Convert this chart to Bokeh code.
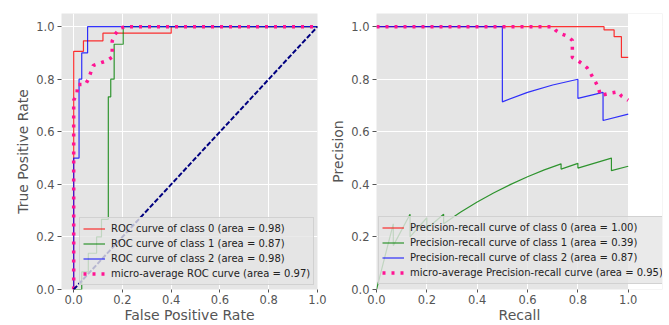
from bokeh.plotting import figure
from bokeh.layouts import row
from bokeh.models import Range1d, FixedTicker, BoxAnnotation
from bokeh.embed import file_html
from bokeh.resources import INLINE

# ---- data ----
ticks = [0.0, 0.2, 0.4, 0.6, 0.8, 1.0]
tick_labels = ["0.0", "0.2", "0.4", "0.6", "0.8", "1.0"]

# ROC curves
fpr0 = [0.0, 0.0, 0.04, 0.04, 0.12, 0.12, 0.40, 0.40, 1.0]
tpr0 = [0.0, 0.906, 0.906, 0.946, 0.946, 0.975, 0.975, 1.0, 1.0]
fpr1 = [0.0, 0.033, 0.033, 0.06, 0.06, 0.094, 0.094, 0.114, 0.114, 0.142, 0.142,
        0.152, 0.152, 0.166, 0.166, 0.203, 0.203, 1.0]
tpr1 = [0.0, 0.0, 0.067, 0.067, 0.138, 0.138, 0.2, 0.2, 0.267, 0.267, 0.733,
        0.733, 0.8, 0.8, 0.933, 0.933, 1.0, 1.0]
fpr2 = [0.0, 0.0, 0.022, 0.022, 0.033, 0.033, 0.057, 0.057, 1.0]
tpr2 = [0.0, 0.5, 0.5, 0.8, 0.8, 0.9, 0.9, 1.0, 1.0]
fpr_micro = [0.0, 0.0, 0.014, 0.015, 0.049, 0.06, 0.08, 0.11, 0.135, 0.158, 0.158,
             0.17, 0.19, 0.212, 1.0]
tpr_micro = [0.0, 0.72, 0.745, 0.78, 0.78, 0.80, 0.852, 0.862, 0.87, 0.884, 0.946,
             0.971, 0.994, 1.0, 1.0]
diag = [0.0, 1.0]
roc_labels = ["ROC curve of class 0 (area = 0.98)",
              "ROC curve of class 1 (area = 0.87)",
              "ROC curve of class 2 (area = 0.98)",
              "micro-average ROC curve (area = 0.97)"]

# Precision-recall curves
rec0 = [0.0, 0.904, 0.904, 0.944, 0.944, 0.973, 0.973, 1.0]
prec0 = [1.0, 1.0, 0.9875, 0.9875, 0.962, 0.962, 0.883, 0.883]
rec1 = [0.0, 0.0667, 0.0667, 0.1333, 0.1333, 0.2, 0.2, 0.2667, 0.2667, 0.3333, 0.4,
        0.4667, 0.5333, 0.6, 0.6667, 0.7333, 0.7333, 0.8, 0.8, 0.8667, 0.9333,
        0.9333, 1.0]
prec1 = [0.0, 0.25, 0.167, 0.286, 0.2, 0.273, 0.231, 0.286, 0.25, 0.294, 0.333,
         0.368, 0.4, 0.429, 0.455, 0.478, 0.458, 0.48, 0.462, 0.481, 0.5,
         0.452, 0.469]
rec2 = [0.0, 0.5, 0.5, 0.6, 0.7, 0.8, 0.8, 0.9, 0.9, 1.0]
prec2 = [1.0, 1.0, 0.714, 0.75, 0.778, 0.8, 0.727, 0.75, 0.643, 0.667]
rec_micro = [0.0, 0.70, 0.713, 0.735, 0.757, 0.778, 0.778, 0.798, 0.817, 0.837,
             0.85, 0.86, 0.872, 0.882, 0.89, 0.923, 0.96, 0.973, 1.0]
prec_micro = [1.0, 1.0, 0.985, 0.972, 0.964, 0.948, 0.883, 0.872, 0.859, 0.843,
              0.824, 0.805, 0.786, 0.765, 0.738, 0.746, 0.752, 0.736, 0.72]
pr_labels = ["Precision-recall curve of class 0 (area = 1.00)",
             "Precision-recall curve of class 1 (area = 0.39)",
             "Precision-recall curve of class 2 (area = 0.87)",
             "micro-average Precision-recall curve (area = 0.95)"]

FONT = "DejaVu Sans"
GRAY = "#555555"


def style(p, xlabel, ylabel):
    p.background_fill_color = "#E5E5E5"
    p.border_fill_color = "white"
    p.outline_line_color = None
    p.grid.grid_line_color = "white"
    p.grid.grid_line_width = 1
    p.xaxis.axis_label = xlabel
    p.yaxis.axis_label = ylabel
    for ax in p.axis:
        ax.ticker = FixedTicker(ticks=ticks)
        ax.major_label_overrides = dict(zip(ticks, tick_labels))
        ax.axis_line_color = None
        ax.major_tick_line_color = GRAY
        ax.major_tick_out = 4
        ax.major_tick_in = 0
        ax.minor_tick_line_color = None
        ax.major_label_text_font = FONT
        ax.major_label_text_font_size = "11.5px"
        ax.major_label_text_color = GRAY
        ax.major_label_standoff = 3
        ax.axis_label_text_font = FONT
        ax.axis_label_text_font_size = "14px"
        ax.axis_label_text_color = GRAY
        ax.axis_label_text_font_style = "normal"
        ax.axis_label_standoff = 2
    for ax in p.xaxis:
        ax.major_tick_out = 3
        ax.major_label_standoff = 2
        ax.axis_label_standoff = 0


def style_legend(p, loc):
    lg = p.legend[0]
    lg.location = loc
    lg.margin = 0
    lg.padding = 3
    lg.spacing = 0
    lg.glyph_width = 22
    lg.glyph_height = 15
    lg.label_height = 15
    lg.label_standoff = 6
    lg.label_text_font = FONT
    lg.label_text_font_size = "10px"
    lg.label_text_color = "#222222"
    lg.background_fill_color = "#E5E5E5"
    lg.background_fill_alpha = 0.8
    lg.border_line_color = "#CCCCCC"
    lg.border_line_alpha = 0.8


H = 325
p1 = figure(width=327, height=H, output_backend="svg", toolbar_location=None,
            x_range=Range1d(-0.05, 1.0), y_range=Range1d(0.0, 1.05),
            min_border_left=61, min_border_right=10, min_border_top=13,
            min_border_bottom=35)
style(p1, "False Positive Rate", "True Positive Rate")
p1.line(fpr0, tpr0, color="red", line_width=1.2, line_alpha=0.8, legend_label=roc_labels[0])
p1.line(fpr1, tpr1, color="green", line_width=1.2, line_alpha=0.8, legend_label=roc_labels[1])
p1.line(fpr2, tpr2, color="blue", line_width=1.2, line_alpha=0.8, legend_label=roc_labels[2])
p1.line(fpr_micro, tpr_micro, color="#FF1493", line_width=3.5, line_dash="3 6",
        legend_label=roc_labels[3])
p1.line(diag, diag, color="navy", line_width=2, line_dash="5 2")
style_legend(p1, (18, 4))

# right panel: frame widened so the legend can overhang the axes; the part
# beyond recall 1.0 is painted white like the page
x_hi = ticks[-1]
p2 = figure(width=342, height=H, output_backend="svg", toolbar_location=None,
            x_range=Range1d(0.0, 292 / 257), y_range=Range1d(0.0, 1.05),
            min_border_left=43, min_border_right=7, min_border_top=13,
            min_border_bottom=35)
style(p2, "Recall", "Precision")
p2.add_layout(BoxAnnotation(left=x_hi, fill_color="white", fill_alpha=1.0,
                            line_color=None, level="underlay"))
p2.line(rec0, prec0, color="red", line_width=1.2, line_alpha=0.8, legend_label=pr_labels[0])
p2.line(rec1, prec1, color="green", line_width=1.2, line_alpha=0.8, legend_label=pr_labels[1])
p2.line(rec2, prec2, color="blue", line_width=1.2, line_alpha=0.8, legend_label=pr_labels[2])
p2.line(rec_micro, prec_micro, color="#FF1493", line_width=3.5, line_dash="3 6",
        legend_label=pr_labels[3])
style_legend(p2, (2, 5))

layout = row(p1, p2, spacing=0)
open("out.html", "w").write(file_html(layout, INLINE))
